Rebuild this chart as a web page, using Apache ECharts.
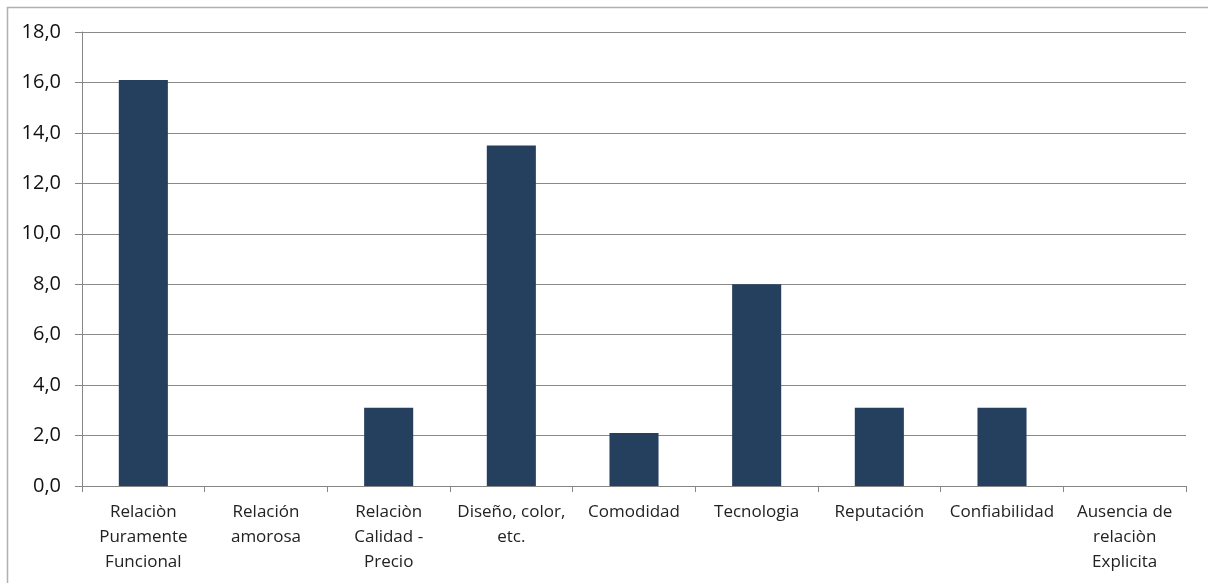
<!DOCTYPE html>
<html>
<head>
<meta charset="utf-8">
<script src="https://cdn.jsdelivr.net/npm/echarts@6/dist/echarts.min.js"></script>
<style>
  html, body { margin: 0; padding: 0; background: #fff; }
  #chart { width: 1208px; height: 583px; }
</style>
</head>
<body>
<div id="chart"></div>
<script>
// Categories and values for the bar chart
const categories = [
  'Relaciòn\nPuramente\nFuncional',
  'Relación\namorosa',
  'Relaciòn\nCalidad -\nPrecio',
  'Diseño, color,\netc.',
  'Comodidad',
  'Tecnologia',
  'Reputación',
  'Confiabilidad',
  'Ausencia de\nrelaciòn\nExplicita'
];
const values = [16.1, 0, 3.1, 13.5, 2.1, 8.0, 3.1, 3.1, 0];
const yMin = 0, yMax = 18, yStep = 2;

const chart = echarts.init(document.getElementById('chart'), null, { renderer: 'canvas' });
const font = 'Open Sans, Noto Sans, sans-serif';

chart.setOption({
  animation: false,
  backgroundColor: '#fff',
  graphic: [{
    type: 'rect',
    shape: { x: 7.5, y: 7.5, width: 1220, height: 600 },
    style: { fill: 'none', stroke: '#b0b0b0', lineWidth: 1.5 },
    silent: true
  }],
  grid: { left: 82, right: 22, top: 32, bottom: 97, containLabel: false },
  xAxis: {
    type: 'category',
    data: categories,
    axisLine: { lineStyle: { color: '#868686', width: 1 } },
    axisTick: { show: true, length: 6, lineStyle: { color: '#868686' } },
    axisLabel: {
      interval: 0,
      color: '#222',
      fontFamily: font,
      fontSize: 17,
      lineHeight: 25,
      margin: 14
    }
  },
  yAxis: {
    type: 'value',
    min: yMin, max: yMax, interval: yStep,
    axisLine: { show: true, lineStyle: { color: '#868686', width: 1 } },
    axisTick: { show: true, length: 7, lineStyle: { color: '#868686' } },
    splitLine: { lineStyle: { color: '#8a8a8a', width: 1 } },
    axisLabel: {
      color: '#111',
      fontFamily: font,
      fontSize: 20,
      margin: 21,
      formatter: v => v.toFixed(1).replace('.', ',')
    }
  },
  series: [{
    type: 'bar',
    data: values,
    barWidth: '40%',
    itemStyle: { color: '#253f5f' }
  }]
});
</script>
</body>
</html>
